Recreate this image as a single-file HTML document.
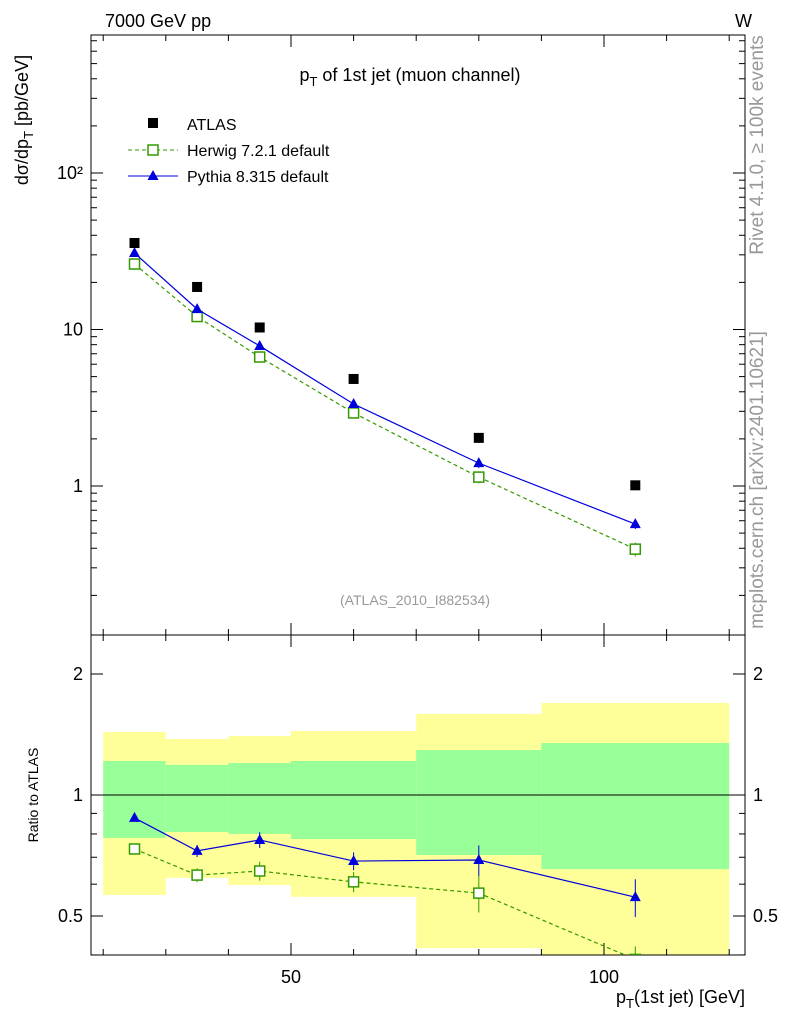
<!DOCTYPE html>
<html><head><meta charset="utf-8"><style>
html,body{margin:0;padding:0;background:#fff}
svg{display:block;font-family:"Liberation Sans",sans-serif}
</style></head><body>
<svg id="c" width="786" height="1024"></svg>
<script>
const binLo=[20,30,40,50,70,90];
const binHi=[30,40,50,70,90,120];
const xCenters=[25,35,45,60,80,105];
const atlas=[35.7,18.7,10.3,4.83,2.03,1.01];
const herwig=[26.2,12.1,6.67,2.93,1.14,0.395];
const herwigErr=[0.8,0.5,0.3,0.15,0.1,0.04];
const pythia=[30.8,13.5,7.85,3.34,1.40,0.571];
const pythiaErr=[0.8,0.5,0.3,0.15,0.1,0.04];
const ratioHerwig=[0.734,0.632,0.647,0.608,0.570,0.39];
const ratioHerwigErr=[0.015,0.025,0.035,0.035,0.06,0.03];
const ratioPythia=[0.877,0.726,0.773,0.685,0.689,0.557];
const ratioPythiaErr=[0.015,0.025,0.035,0.035,0.06,0.06];
const greenHi=[1.215,1.188,1.201,1.215,1.294,1.347];
const greenLo=[0.782,0.809,0.800,0.777,0.709,0.654];
const yellowHi=[1.435,1.378,1.402,1.443,1.591,1.694];
const yellowLo=[0.564,0.622,0.597,0.558,0.416,0.38];
const xTicks=[50,100];
const mainTicks=[1,10,100];
const mainTickLabels=["1","10","10²"];
const ratioTicks=[0.5,1,2];
const ratioTickLabels=["0.5","1","2"];

const NS="http://www.w3.org/2000/svg";
const svg=document.getElementById('c');
function el(t,a,p){const e=document.createElementNS(NS,t);for(const k in a)e.setAttribute(k,a[k]);(p||svg).appendChild(e);return e;}
const L=91,R=745,T=35,M=635,B=955;
const X=v=>291+(v-50)*6.26;
const Y=v=>486-Math.log10(v)*156.5;
const RY=v=>795-Math.log2(v)*121;
const gClip=el('clipPath',{id:'rc'});el('rect',{x:L,y:M,width:R-L,height:B-M},gClip);
const bands=el('g',{'clip-path':'url(#rc)'});

for(let i=0;i<binLo.length;i++){
 const y=el('rect',{x:X(binLo[i]),y:RY(yellowHi[i]),width:X(binHi[i])-X(binLo[i]),height:RY(yellowLo[i])-RY(yellowHi[i]),fill:'#ffff99'},bands);
 
 const g=el('rect',{x:X(binLo[i]),y:RY(greenHi[i]),width:X(binHi[i])-X(binLo[i]),height:RY(greenLo[i])-RY(greenHi[i]),fill:'#99ff99'},bands);
 
}
el('line',{x1:L,x2:R,y1:RY(1),y2:RY(1),stroke:'#000','stroke-width':1});
el('rect',{x:L,y:T,width:R-L,height:M-T,fill:'none',stroke:'#000','stroke-width':1});
el('rect',{x:L,y:M,width:R-L,height:B-M,fill:'none',stroke:'#000','stroke-width':1});
function txt(x,y,s,a,p){const e=el('text',Object.assign({x:x,y:y,'font-size':18},a||{}),p);e.innerHTML=s;return e;}
for(let v=20;v<=120;v+=10){const maj=xTicks.includes(v);const h=maj?12:6;
 for(const [y0,dir] of [[M,-1],[B,-1],[T,1],[M,1]]){el('line',{x1:X(v),x2:X(v),y1:y0,y2:y0+dir*h,stroke:'#000'});}}
xTicks.forEach(v=>{const t=txt(X(v),983,v,{'text-anchor':'middle'});});
for(let d=-1;d<=2;d++){for(let k=1;k<10;k++){const v=k*Math.pow(10,d);const y=Y(v);if(y<T||y>M)continue;const h=k==1?12:6;
 el('line',{x1:L,x2:L+h,y1:y,y2:y,stroke:'#000'});el('line',{x1:R,x2:R-h,y1:y,y2:y,stroke:'#000'});}}
mainTicks.forEach((v,i)=>{const t=txt(L-8,Y(v)+6,mainTickLabels[i],{'text-anchor':'end'});});
[0.4,0.5,0.6,0.7,0.8,0.9,1,2].forEach(v=>{const y=RY(v);const h=ratioTicks.includes(v)?12:6;el('line',{x1:L,x2:L+h,y1:y,y2:y,stroke:'#000'});el('line',{x1:R,x2:R-h,y1:y,y2:y,stroke:'#000'});});
ratioTicks.forEach((v,i)=>{const t=txt(L-8,RY(v)+6,ratioTickLabels[i],{'text-anchor':'end'});
 const t2=txt(R+8,RY(v)+6,ratioTickLabels[i],{});});
function series(vals,errs,yf,color,dash,marker,name,clip){
 const g=el('g',clip?{'clip-path':'url(#rc)'}:{});
 el('polyline',{points:xCenters.map((x,i)=>X(x)+','+yf(vals[i])).join(' '),fill:'none',stroke:color,'stroke-width':1.2,'stroke-dasharray':dash||''},g);
 xCenters.forEach((x,i)=>{const cx=X(x),cy=yf(vals[i]);
  el('line',{x1:cx,x2:cx,y1:yf(vals[i]+errs[i]),y2:yf(vals[i]-errs[i]),stroke:color},g);
  let m;
  if(marker=='sq') m=el('rect',{x:cx-5,y:cy-5,width:10,height:10,fill:'#fff',stroke:color,'stroke-width':1.5},g);
  else m=el('polygon',{points:`${cx},${cy-6} ${cx-5.5},${cy+4} ${cx+5.5},${cy+4}`,fill:color},g);
  });
}
series(herwig,herwigErr,Y,'#339900','4,3','sq','herwig-series');
series(pythia,pythiaErr,Y,'#0000dd','','tri','pythia-series');
atlas.forEach((v,i)=>{const r=el('rect',{x:X(xCenters[i])-5,y:Y(v)-5,width:10,height:10,fill:'#000'});});
series(ratioHerwig,ratioHerwigErr,RY,'#339900','4,3','sq','ratio-herwig-series',true);
series(ratioPythia,ratioPythiaErr,RY,'#0000dd','','tri','ratio-pythia-series',true);
const lg=el('g',{});
el('rect',{x:148,y:118,width:10,height:10,fill:'#000'},lg);txt(187,130,'ATLAS',{'font-size':16},lg);
el('line',{x1:128,x2:178,y1:150,y2:150,stroke:'#339900','stroke-dasharray':'4,3'},lg);el('rect',{x:148,y:145,width:10,height:10,fill:'#fff',stroke:'#339900','stroke-width':1.5},lg);txt(187,156,'Herwig 7.2.1 default',{'font-size':16},lg);
el('line',{x1:128,x2:178,y1:176,y2:176,stroke:'#0000dd'},lg);el('polygon',{points:'153,170 147.5,180 158.5,180',fill:'#0000dd'},lg);txt(187,182,'Pythia 8.315 default',{'font-size':16},lg);
let t;
t=txt(105,27,'7000 GeV pp',{});
t=txt(735,27,'W',{});
t=txt(410,81,'p<tspan font-size="13" dy="5">T</tspan><tspan dy="-5"> of 1st jet (muon channel)</tspan>',{'text-anchor':'middle'});
t=txt(415,605,'(ATLAS_2010_I882534)',{'text-anchor':'middle','font-size':14,fill:'#999'});
t=txt(0,0,'dσ/dp<tspan font-size="13" dy="5">T</tspan><tspan dy="-5">  [pb/GeV]</tspan>',{transform:'translate(28,120) rotate(-90)','text-anchor':'middle'});
t=txt(0,0,'Ratio to ATLAS',{transform:'translate(38,795) rotate(-90)','text-anchor':'middle','font-size':14});
t=txt(745,1003,'p<tspan font-size="13" dy="5">T</tspan><tspan dy="-5">(1st jet) [GeV]</tspan>',{'text-anchor':'end'});
t=txt(0,0,'Rivet 4.1.0, ≥ 100k events',{transform:'translate(763,145) rotate(-90)','text-anchor':'middle','font-size':19,fill:'#999'});
t=txt(0,0,'mcplots.cern.ch [arXiv:2401.10621]',{transform:'translate(763,480) rotate(-90)','text-anchor':'middle','font-size':19,fill:'#999'});
</script>
</body></html>
